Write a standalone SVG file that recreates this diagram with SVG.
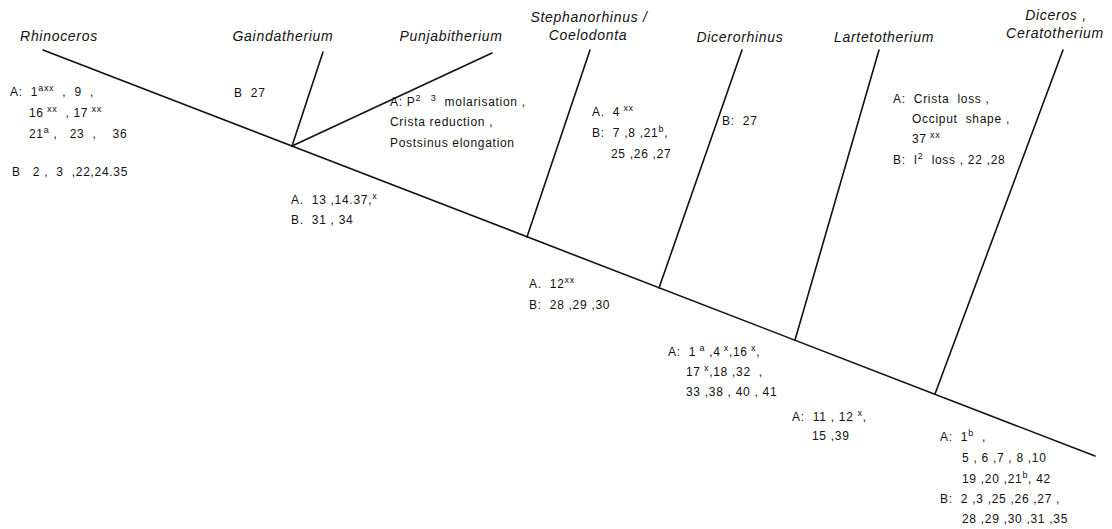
<svg xmlns="http://www.w3.org/2000/svg" width="1112" height="529" viewBox="0 0 1112 529">
<style>
.bg{fill:#fff}
.ln{stroke:#111;stroke-width:1.6;fill:none;stroke-linecap:round}
.tx{font-family:"Liberation Sans",Arial,sans-serif;font-style:italic;font-size:14px;letter-spacing:0.7px;fill:#111;text-anchor:middle}
.an{font-family:"Liberation Sans",Arial,sans-serif;font-size:12px;letter-spacing:0.7px;fill:#111;white-space:pre}
.sp{font-size:9px}
</style>
<rect class="bg" x="0" y="0" width="1112" height="529"/>
<g id="connectors">
<line class="ln" x1="43" y1="50" x2="1095" y2="456"/>
<line class="ln" x1="323" y1="52" x2="292" y2="146"/>
<line class="ln" x1="492" y1="53" x2="292" y2="146"/>
<line class="ln" x1="590" y1="50" x2="527" y2="237"/>
<line class="ln" x1="742" y1="50" x2="659" y2="288"/>
<line class="ln" x1="879" y1="50" x2="795" y2="340"/>
<line class="ln" x1="1063" y1="50" x2="935" y2="394"/>
</g>
<g id="rhinoceros">
<text class="tx" x="59" y="41">Rhinoceros</text>
<text class="an" x="10" y="96">A:  1<tspan class="sp" dy="-5">axx</tspan><tspan dy="5">  ,  9  ,</tspan></text>
<text class="an" x="29" y="117">16<tspan class="sp" dy="-5"> xx</tspan><tspan dy="5">  , 17</tspan><tspan class="sp" dy="-5"> xx</tspan></text>
<text class="an" x="29" y="138">21<tspan class="sp" dy="-5">a</tspan><tspan dy="5"> ,   23  ,    36</tspan></text>
<text class="an" x="12" y="176">B   2 ,  3  ,22,24.35</text>
</g>
<g id="gaindatherium">
<text class="tx" x="283" y="41">Gaindatherium</text>
<text class="an" x="234" y="97">B  27</text>
</g>
<g id="punjabitherium">
<text class="tx" x="451" y="41">Punjabitherium</text>
<text class="an" x="390" y="106">A: P<tspan class="sp" dy="-5">2   3</tspan><tspan dy="5">  molarisation ,</tspan></text>
<text class="an" x="390" y="126">Crista reduction ,</text>
<text class="an" x="390" y="147">Postsinus elongation</text>
</g>
<g id="clade-1">
<text class="an" x="291" y="204">A.  13 ,14.37,<tspan class="sp" dy="-5">x</tspan></text>
<text class="an" x="291" y="224">B.  31 , 34</text>
</g>
<g id="stephanorhinus">
<text class="tx" x="589" y="22">Stephanorhinus /</text>
<text class="tx" x="588" y="40">Coelodonta</text>
<text class="an" x="592" y="116">A.  4<tspan class="sp" dy="-5"> xx</tspan></text>
<text class="an" x="592" y="137">B:  7 ,8 ,21<tspan class="sp" dy="-5">b</tspan><tspan dy="5">,</tspan></text>
<text class="an" x="611" y="158">25 ,26 ,27</text>
</g>
<g id="clade-2">
<text class="an" x="529" y="288">A.  12<tspan class="sp" dy="-5">xx</tspan></text>
<text class="an" x="529" y="309">B:  28 ,29 ,30</text>
</g>
<g id="dicerorhinus">
<text class="tx" x="740" y="42">Dicerorhinus</text>
<text class="an" x="722" y="125">B:  27</text>
</g>
<g id="clade-3">
<text class="an" x="668" y="356">A:  1<tspan class="sp" dy="-5"> a</tspan><tspan dy="5"> ,4</tspan><tspan class="sp" dy="-5"> x</tspan><tspan dy="5">,16</tspan><tspan class="sp" dy="-5"> x</tspan><tspan dy="5">,</tspan></text>
<text class="an" x="686" y="376">17<tspan class="sp" dy="-5"> x</tspan><tspan dy="5">,18 ,32  ,</tspan></text>
<text class="an" x="686" y="396">33 ,38 , 40 , 41</text>
</g>
<g id="lartetotherium">
<text class="tx" x="884" y="42">Lartetotherium</text>
</g>
<g id="clade-4">
<text class="an" x="792" y="421">A:  11 , 12 <tspan class="sp" dy="-5">x</tspan><tspan dy="5">,</tspan></text>
<text class="an" x="812" y="440">15 ,39</text>
</g>
<g id="diceros-ceratotherium">
<text class="tx" x="1056" y="20">Diceros ,</text>
<text class="tx" x="1055" y="38">Ceratotherium</text>
<text class="an" x="893" y="103">A:  Crista  loss ,</text>
<text class="an" x="912" y="123">Occiput  shape ,</text>
<text class="an" x="912" y="143">37<tspan class="sp" dy="-5"> xx</tspan></text>
<text class="an" x="893" y="164">B:  I<tspan class="sp" dy="-5">2</tspan><tspan dy="5">  loss , 22 ,28</tspan></text>
<text class="an" x="940" y="441">A:  1<tspan class="sp" dy="-5">b</tspan><tspan dy="5">  ,</tspan></text>
<text class="an" x="962" y="462">5 , 6 ,7 , 8 ,10</text>
<text class="an" x="962" y="483">19 ,20 ,21<tspan class="sp" dy="-5">b</tspan><tspan dy="5">, 42</tspan></text>
<text class="an" x="940" y="503">B:  2 ,3 ,25 ,26 ,27 ,</text>
<text class="an" x="962" y="523">28 ,29 ,30 ,31 ,35</text>
</g>
</svg>
